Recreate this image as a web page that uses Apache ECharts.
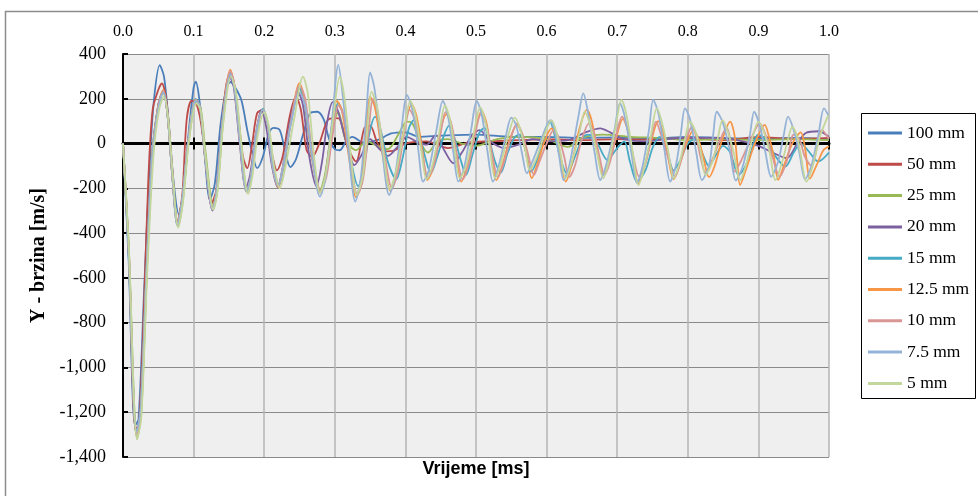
<!DOCTYPE html>
<html>
<head>
<meta charset="utf-8">
<script src="https://cdn.jsdelivr.net/npm/echarts@6/dist/echarts.min.js"></script>
<style>
html,body{margin:0;padding:0;background:#fff;}
#c{width:978px;height:496px;}
</style>
</head>
<body>
<div id="c"></div>
<script>
// ---- data: [time (ms), velocity (m/s)] ----
const seriesNames = ['100 mm','50 mm','25 mm','20 mm','15 mm','12.5 mm','10 mm','7.5 mm','5 mm'];

const s100 = [[0,0],[0.008,-520],[0.017,-1260],[0.022,-1230],[0.03,-650],[0.038,-80],[0.044,200],[0.052,350],[0.058,300],[0.064,120],[0.072,-180],[0.079,-315],[0.086,-200],[0.093,50],[0.1,250],[0.103,276],[0.108,200],[0.115,-20],[0.123,-250],[0.13,-180],[0.138,80],[0.146,240],[0.152,275],[0.16,245],[0.168,190],[0.176,60],[0.183,-40],[0.19,-110],[0.198,-60],[0.206,40],[0.213,70],[0.222,60],[0.23,-40],[0.237,-105],[0.245,-70],[0.255,40],[0.265,135],[0.275,142],[0.284,110],[0.292,20],[0.3,-25],[0.307,-30],[0.316,10],[0.325,30],[0.34,5],[0.36,15],[0.38,45],[0.4,50],[0.42,30],[0.45,35],[0.5,40],[0.55,30],[0.6,30],[0.65,25],[0.7,28],[0.75,22],[0.8,30],[0.85,25],[0.9,22],[0.95,25],[1.0,20]];

const s50 = [[0,0],[0.008,-480],[0.018,-1280],[0.023,-1240],[0.03,-700],[0.036,-150],[0.042,150],[0.05,240],[0.055,269],[0.062,180],[0.07,-120],[0.077,-350],[0.084,-230],[0.09,100],[0.097,190],[0.103,185],[0.11,100],[0.118,-100],[0.125,-270],[0.132,-210],[0.14,80],[0.15,300],[0.156,290],[0.164,100],[0.17,-60],[0.176,-110],[0.183,0],[0.19,136],[0.198,150],[0.205,60],[0.212,-60],[0.218,-120],[0.226,-60],[0.236,120],[0.245,209],[0.252,150],[0.26,-29],[0.268,-60],[0.278,0],[0.29,105],[0.3,114],[0.307,110],[0.318,-15],[0.33,-80],[0.342,70],[0.35,80],[0.36,5],[0.37,-35],[0.385,-30],[0.4,0],[0.43,10],[0.46,-20],[0.49,5],[0.52,10],[0.56,15],[0.6,20],[0.65,15],[0.7,20],[0.75,18],[0.8,25],[0.85,15],[0.9,30],[0.95,20],[1.0,25]];

const s25 = [[0,0],[0.008,-450],[0.02,-1320],[0.026,-1200],[0.034,-560],[0.042,-60],[0.05,170],[0.057,225],[0.063,130],[0.07,-140],[0.078,-370],[0.085,-250],[0.093,10],[0.104,185],[0.11,160],[0.117,-40],[0.128,-290],[0.134,-200],[0.142,100],[0.152,310],[0.159,240],[0.167,0],[0.176,-210],[0.182,-140],[0.19,60],[0.198,155],[0.205,90],[0.213,-100],[0.221,-185],[0.228,-100],[0.238,100],[0.25,245],[0.257,190],[0.267,-40],[0.279,-210],[0.286,-140],[0.296,60],[0.305,140],[0.315,20],[0.33,-30],[0.345,10],[0.36,-10],[0.375,-25],[0.39,40],[0.402,98],[0.41,90],[0.422,0],[0.432,-40],[0.445,10],[0.46,20],[0.48,0],[0.5,-10],[0.53,20],[0.56,30],[0.6,20],[0.63,-15],[0.65,25],[0.68,40],[0.72,30],[0.76,25],[0.8,15],[0.85,20],[0.9,15],[0.95,20],[1.0,15]];

const s20 = [[0,0],[0.008,-470],[0.019,-1290],[0.025,-1180],[0.033,-600],[0.041,-60],[0.05,175],[0.057,235],[0.063,130],[0.07,-150],[0.077,-365],[0.084,-250],[0.092,0],[0.103,190],[0.109,160],[0.116,-60],[0.127,-300],[0.133,-210],[0.141,90],[0.151,300],[0.157,250],[0.165,10],[0.174,-200],[0.18,-140],[0.188,40],[0.196,150],[0.203,70],[0.211,-100],[0.219,-195],[0.226,-110],[0.236,90],[0.248,230],[0.255,170],[0.264,-60],[0.274,-190],[0.282,-80],[0.29,110],[0.297,185],[0.304,150],[0.315,20],[0.328,-96],[0.338,-50],[0.35,20],[0.362,-20],[0.375,-55],[0.39,-10],[0.402,30],[0.415,10],[0.43,-5],[0.443,38],[0.455,-30],[0.468,-88],[0.48,-40],[0.495,40],[0.505,60],[0.52,10],[0.54,-20],[0.56,-5],[0.58,20],[0.6,10],[0.63,15],[0.655,50],[0.676,68],[0.69,50],[0.71,20],[0.74,10],[0.77,20],[0.8,25],[0.84,25],[0.87,15],[0.9,-10],[0.92,-40],[0.94,-65],[0.955,0],[0.967,47],[0.985,55],[1.0,30]];

const s15 = [[0,0],[0.008,-490],[0.019,-1300],[0.025,-1180],[0.033,-580],[0.041,-60],[0.05,170],[0.057,235],[0.063,130],[0.07,-150],[0.077,-360],[0.084,-250],[0.092,0],[0.103,200],[0.109,170],[0.116,-50],[0.127,-290],[0.133,-200],[0.141,100],[0.152,320],[0.158,250],[0.166,0],[0.175,-215],[0.181,-150],[0.189,50],[0.198,155],[0.205,85],[0.212,-100],[0.22,-190],[0.227,-100],[0.238,100],[0.25,250],[0.257,190],[0.267,-50],[0.28,-215],[0.287,-140],[0.296,80],[0.305,180],[0.312,130],[0.322,-60],[0.333,-190],[0.34,-120],[0.35,60],[0.357,120],[0.365,60],[0.375,-80],[0.387,-160],[0.395,-80],[0.405,70],[0.412,105],[0.42,40],[0.428,-60],[0.436,-133],[0.445,-60],[0.455,40],[0.462,80],[0.47,20],[0.478,-70],[0.486,-140],[0.495,-50],[0.505,50],[0.512,70],[0.52,0],[0.527,-80],[0.535,-130],[0.545,-40],[0.555,30],[0.562,40],[0.57,-30],[0.578,-125],[0.588,-60],[0.598,60],[0.605,95],[0.612,30],[0.62,-70],[0.629,-135],[0.64,-60],[0.652,30],[0.66,40],[0.672,0],[0.686,-73],[0.7,-20],[0.71,10],[0.718,-80],[0.728,-170],[0.74,-120],[0.75,-20],[0.76,30],[0.768,0],[0.78,-120],[0.79,-70],[0.8,0],[0.81,20],[0.82,-40],[0.83,-100],[0.84,-50],[0.85,-10],[0.86,-40],[0.872,-140],[0.885,-80],[0.9,40],[0.91,20],[0.925,-60],[0.938,-103],[0.95,-40],[0.96,0],[0.97,-30],[0.985,-80],[1.0,-40]];

const s12_5 = [[0,0],[0.008,-470],[0.019,-1300],[0.025,-1190],[0.033,-590],[0.041,-60],[0.05,170],[0.057,240],[0.063,130],[0.07,-150],[0.077,-360],[0.084,-250],[0.092,0],[0.103,195],[0.109,165],[0.116,-50],[0.127,-290],[0.133,-200],[0.141,100],[0.152,330],[0.158,255],[0.166,0],[0.175,-215],[0.181,-150],[0.189,50],[0.198,150],[0.205,80],[0.212,-100],[0.22,-195],[0.227,-100],[0.238,100],[0.25,270],[0.257,200],[0.267,-50],[0.279,-220],[0.286,-160],[0.295,60],[0.303,190],[0.31,150],[0.32,-60],[0.33,-240],[0.337,-170],[0.345,80],[0.35,210],[0.357,160],[0.367,-40],[0.379,-212],[0.386,-140],[0.397,50],[0.409,175],[0.416,120],[0.424,-30],[0.431,-163],[0.438,-120],[0.448,40],[0.458,130],[0.465,80],[0.472,-60],[0.479,-170],[0.487,-110],[0.497,40],[0.508,145],[0.515,90],[0.522,-60],[0.529,-163],[0.537,-100],[0.548,20],[0.558,83],[0.565,40],[0.572,-60],[0.579,-155],[0.587,-90],[0.597,10],[0.607,68],[0.614,30],[0.62,-60],[0.627,-170],[0.635,-100],[0.646,60],[0.657,150],[0.664,100],[0.672,-40],[0.68,-140],[0.688,-90],[0.698,20],[0.708,110],[0.715,60],[0.722,-60],[0.73,-180],[0.738,-110],[0.748,10],[0.758,100],[0.765,50],[0.772,-60],[0.78,-160],[0.788,-100],[0.798,0],[0.808,60],[0.815,20],[0.822,-60],[0.83,-150],[0.838,-100],[0.848,10],[0.86,98],[0.866,40],[0.87,-80],[0.874,-185],[0.882,-120],[0.895,0],[0.909,83],[0.915,30],[0.922,-60],[0.928,-162],[0.936,-100],[0.948,0],[0.96,50],[0.966,-20],[0.973,-157],[0.982,-100],[0.992,-30],[1.0,-12]];

const s10 = [[0,0],[0.008,-460],[0.019,-1300],[0.025,-1200],[0.033,-600],[0.042,-60],[0.05,165],[0.057,235],[0.063,130],[0.07,-150],[0.077,-360],[0.084,-250],[0.092,0],[0.103,195],[0.109,165],[0.116,-50],[0.127,-295],[0.133,-200],[0.141,100],[0.152,325],[0.158,255],[0.166,0],[0.175,-215],[0.181,-150],[0.189,50],[0.198,150],[0.205,80],[0.212,-100],[0.22,-190],[0.227,-100],[0.238,100],[0.25,260],[0.258,200],[0.268,-40],[0.28,-210],[0.288,-150],[0.297,40],[0.305,170],[0.312,130],[0.322,-60],[0.332,-230],[0.34,-160],[0.348,60],[0.354,200],[0.36,150],[0.37,-40],[0.381,-200],[0.389,-130],[0.398,40],[0.406,150],[0.414,100],[0.423,-30],[0.432,-150],[0.44,-100],[0.449,30],[0.457,140],[0.465,90],[0.473,-50],[0.481,-160],[0.489,-100],[0.498,30],[0.507,130],[0.515,80],[0.523,-50],[0.531,-150],[0.539,-90],[0.549,20],[0.558,90],[0.566,40],[0.574,-50],[0.582,-140],[0.59,-80],[0.6,0],[0.61,60],[0.618,20],[0.625,-60],[0.632,-150],[0.64,-100],[0.65,20],[0.66,90],[0.668,40],[0.675,-60],[0.682,-140],[0.69,-80],[0.698,30],[0.707,120],[0.715,60],[0.723,-60],[0.731,-148],[0.74,-90],[0.748,20],[0.755,98],[0.762,40],[0.772,-60],[0.782,-148],[0.79,-80],[0.798,20],[0.806,75],[0.812,30],[0.818,-60],[0.825,-130],[0.835,-70],[0.845,10],[0.855,70],[0.86,20],[0.866,-125],[0.875,-80],[0.888,10],[0.902,90],[0.91,40],[0.92,-60],[0.93,-148],[0.94,-80],[0.95,40],[0.958,20],[0.966,-60],[0.975,-100],[0.983,-20],[0.99,61],[1.0,20]];

const s7_5 = [[0,0],[0.008,-480],[0.019,-1290],[0.025,-1190],[0.033,-600],[0.041,-70],[0.05,160],[0.057,230],[0.063,130],[0.07,-150],[0.077,-365],[0.084,-250],[0.092,0],[0.103,190],[0.109,165],[0.116,-50],[0.127,-295],[0.133,-200],[0.141,100],[0.152,310],[0.158,245],[0.166,0],[0.175,-215],[0.181,-150],[0.189,50],[0.198,150],[0.205,80],[0.212,-100],[0.22,-190],[0.227,-100],[0.238,90],[0.25,230],[0.258,170],[0.268,-60],[0.279,-237],[0.287,-150],[0.296,100],[0.305,351],[0.31,250],[0.32,-50],[0.329,-259],[0.337,-150],[0.345,150],[0.35,318],[0.356,250],[0.366,0],[0.377,-230],[0.385,-150],[0.395,80],[0.402,217],[0.41,150],[0.418,-20],[0.425,-170],[0.433,-120],[0.444,60],[0.453,190],[0.46,130],[0.468,-40],[0.475,-170],[0.483,-110],[0.493,60],[0.501,190],[0.508,130],[0.516,-30],[0.524,-170],[0.532,-100],[0.542,30],[0.55,116],[0.557,80],[0.565,-40],[0.572,-133],[0.58,-80],[0.595,40],[0.605,105],[0.612,50],[0.618,-60],[0.624,-163],[0.632,-100],[0.645,120],[0.652,224],[0.658,150],[0.668,-40],[0.676,-163],[0.684,-100],[0.696,60],[0.704,180],[0.71,130],[0.72,-40],[0.728,-177],[0.736,-100],[0.745,60],[0.751,195],[0.758,140],[0.767,-30],[0.775,-170],[0.783,-100],[0.79,40],[0.796,157],[0.803,110],[0.812,-40],[0.82,-163],[0.83,-100],[0.836,40],[0.841,142],[0.85,90],[0.86,-40],[0.868,-165],[0.878,-100],[0.888,40],[0.894,142],[0.902,80],[0.91,-40],[0.918,-148],[0.928,-80],[0.936,40],[0.942,120],[0.95,60],[0.958,-40],[0.966,-160],[0.975,-100],[0.985,40],[0.993,157],[1.0,120]];

const s5 = [[0,0],[0.008,-440],[0.02,-1320],[0.026,-1220],[0.034,-600],[0.043,-60],[0.051,150],[0.058,210],[0.064,110],[0.071,-160],[0.078,-375],[0.085,-260],[0.093,0],[0.104,180],[0.11,150],[0.117,-60],[0.128,-295],[0.134,-210],[0.142,90],[0.153,300],[0.16,230],[0.168,-10],[0.177,-225],[0.183,-150],[0.191,40],[0.2,140],[0.207,70],[0.214,-100],[0.222,-200],[0.229,-120],[0.243,120],[0.255,299],[0.262,220],[0.27,-40],[0.279,-220],[0.287,-140],[0.298,120],[0.307,299],[0.313,220],[0.322,-30],[0.331,-230],[0.34,-140],[0.347,100],[0.352,232],[0.36,160],[0.368,-20],[0.378,-205],[0.387,-120],[0.398,60],[0.407,190],[0.414,130],[0.422,-20],[0.43,-160],[0.438,-100],[0.448,50],[0.456,170],[0.463,110],[0.47,-30],[0.477,-155],[0.486,-100],[0.497,50],[0.506,163],[0.513,100],[0.52,-30],[0.527,-155],[0.535,-90],[0.546,40],[0.555,116],[0.562,70],[0.57,-30],[0.576,-118],[0.585,-70],[0.597,40],[0.607,105],[0.614,50],[0.62,-50],[0.627,-155],[0.636,-80],[0.646,40],[0.654,142],[0.662,80],[0.672,-50],[0.68,-155],[0.688,-80],[0.698,80],[0.706,195],[0.713,130],[0.722,-40],[0.73,-185],[0.738,-110],[0.748,40],[0.756,157],[0.763,100],[0.772,-30],[0.78,-155],[0.788,-90],[0.796,20],[0.803,98],[0.81,60],[0.818,-30],[0.825,-140],[0.835,-80],[0.843,30],[0.849,105],[0.856,60],[0.865,-40],[0.874,-163],[0.883,-90],[0.892,30],[0.9,98],[0.908,50],[0.916,-40],[0.924,-163],[0.933,-90],[0.942,20],[0.948,75],[0.955,30],[0.96,-50],[0.968,-170],[0.977,-100],[0.987,30],[0.999,127]];

const seriesData = [s100, s50, s25, s20, s15, s12_5, s10, s7_5, s5];
const seriesColors = ['#4A7EBB','#BE4B48','#98B954','#7D60A0','#46AAC5','#F79646','#D99694','#95B3D7','#C3D69B'];

const serif = '"Liberation Serif", "DejaVu Serif", serif';
const chart = echarts.init(document.getElementById('c'), null, {renderer: 'canvas'});

const series = seriesNames.map((n, i) => ({
  name: n,
  type: 'line',
  xAxisIndex: 0,
  yAxisIndex: 0,
  data: seriesData[i],
  symbol: 'none',
  showSymbol: false,
  smooth: 0.3,
  lineStyle: {color: seriesColors[i], width: 1.8},
  itemStyle: {color: seriesColors[i]},
  z: 2 + i * 0.01,
  animation: false
}));

chart.setOption({
  animation: false,
  backgroundColor: '#ffffff',
  grid: {left: 123, right: 149, top: 54, bottom: 39, show: true, backgroundColor: '#efefef', borderWidth: 0},
  xAxis: [
    {
      type: 'value', min: 0, max: 1, interval: 0.1, position: 'top',
      axisLine: {show: false, onZero: false},
      axisTick: {show: false},
      axisLabel: {color: '#000', fontFamily: serif, fontSize: 16, margin: 14, formatter: v => v.toFixed(1)},
      splitLine: {show: true, lineStyle: {color: '#b4b4b4', width: 1.5}}
    },
    {
      type: 'value', min: 0, max: 1, interval: 0.1, position: 'bottom',
      axisLine: {show: true, onZero: true, onZeroAxisIndex: 0, lineStyle: {color: '#000', width: 3}},
      axisTick: {show: true, inside: true, length: 6, lineStyle: {color: '#000', width: 2}},
      axisLabel: {show: false},
      splitLine: {show: false}
    },
    {
      type: 'value', min: 0, max: 1, interval: 0.1, position: 'bottom',
      axisLine: {show: false, onZero: true, onZeroAxisIndex: 0},
      axisTick: {show: true, inside: false, length: 6, lineStyle: {color: '#000', width: 2}},
      axisLabel: {show: false},
      splitLine: {show: false}
    }
  ],
  yAxis: {
    type: 'value', min: -1400, max: 400, interval: 200,
    name: 'Y - brzina [m/s]', nameLocation: 'middle', nameGap: 69, nameRotate: 90,
    nameTextStyle: {color: '#000', fontFamily: serif, fontSize: 20, fontWeight: 'bold'},
    axisLine: {show: true, onZero: false, lineStyle: {color: '#000', width: 2}},
    axisTick: {show: true, inside: true, length: 5, lineStyle: {color: '#000', width: 2}},
    axisLabel: {color: '#000', fontFamily: serif, fontSize: 18, margin: 17,
      formatter: v => v.toLocaleString('en-US')},
    splitLine: {show: true, lineStyle: {color: '#8a8a8a', width: 1.2}}
  },
  legend: {
    orient: 'vertical', left: 868, top: 123, itemWidth: 34, itemHeight: 3, itemGap: 11.3,
    padding: 0, icon: 'rect',
    textStyle: {color: '#000', fontFamily: serif, fontSize: 17.5, lineHeight: 20},
    data: seriesNames
  },
  graphic: [
    {type: 'rect', shape: {x: 5.5, y: 11.5, width: 1000, height: 1000}, style: {fill: 'none', stroke: '#8c8c8c', lineWidth: 1.5}, silent: true, z: -10},
    {type: 'rect', shape: {x: 861.5, y: 113.5, width: 114, height: 285}, style: {fill: '#fff', stroke: '#000', lineWidth: 1}, silent: true, z: -5},
    {type: 'text', x: 476, y: 469, style: {text: 'Vrijeme [ms]', font: 'bold 18px "Liberation Sans", Arial, sans-serif', fill: '#000', textAlign: 'center', textVerticalAlign: 'middle'}, silent: true}
  ],
  series: series
});
</script>
</body>
</html>
